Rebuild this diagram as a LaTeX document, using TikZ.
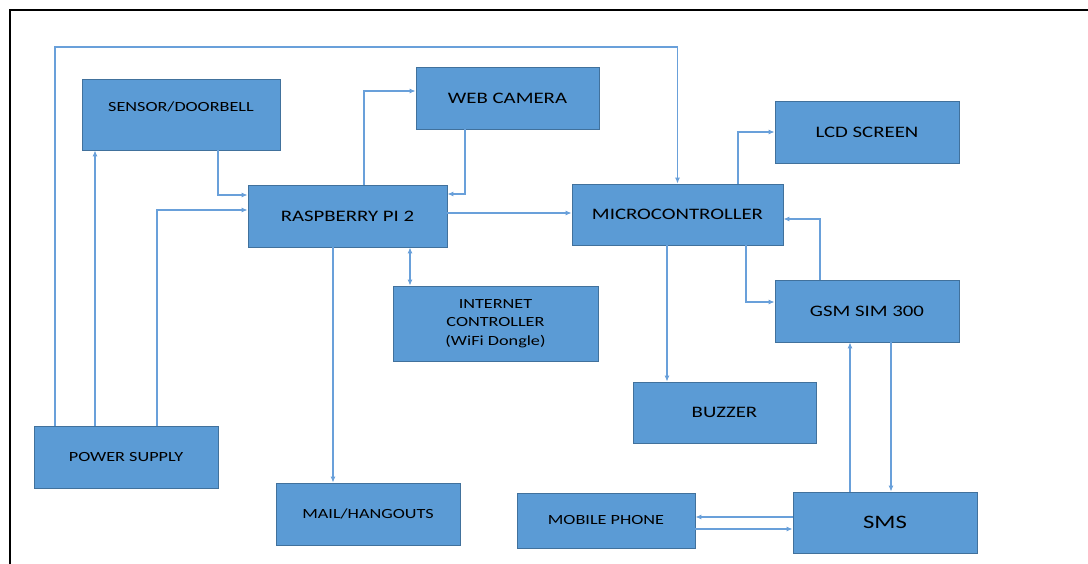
\documentclass[tikz,border=0pt]{standalone}
\usepackage{fontspec}
\setmainfont{Carlito}[FakeStretch=1.3]
\usepackage{xcolor}
\usepackage{tikz}
\usetikzlibrary{arrows.meta,calc,positioning}
\definecolor{boxblue}{RGB}{91,155,213}
\definecolor{edgeblue}{RGB}{65,113,156}
\definecolor{wireblue}{RGB}{105,160,218}

\begin{document}
\begin{tikzpicture}[
    x=1pt,y=-1pt,
    >={Latex[length=6pt,width=5pt]},
    wire/.style={draw=wireblue,line width=1.1pt},
    block/.style={draw=edgeblue,line width=0.8pt,fill=boxblue,align=center,inner sep=0pt,
                  minimum width=184pt,minimum height=62pt,font=\fontsize{16}{19}\selectfont},
    small/.style={font=\fontsize{14}{18.5}\selectfont},
    large/.style={font=\fontsize{19}{23}\selectfont}
]
\useasboundingbox (0,0) rectangle (1088,564);

% --- Frame ---
\draw[line width=2.2pt] (10,564) -- (10,10) -- (1088,10);

% --- Positions ---
% Inputs on the left
\node[block,small,minimum width=198pt,minimum height=71pt,text depth=16pt] (Sens) at (181,114.5) {SENSOR/DOORBELL};
\node[block,small] (Psu) at (126,457) {POWER SUPPLY};

% Raspberry Pi and its peripherals
\node[block,minimum width=199pt] (Rpi) at (347.5,216) {RASPBERRY PI 2};
\node[block,minimum width=183pt] (Cam) at (507.5,98) {WEB CAMERA};
\node[block,small,minimum width=205pt,minimum height=75pt] (Net) at (495.5,323.5) {INTERNET\\CONTROLLER\\(WiFi Dongle)};
\node[block,small] (Mail) at (368,514) {MAIL/HANGOUTS};

% Microcontroller side
\node[block,minimum width=211pt,minimum height=61pt] (Mcu) at (677.5,214.5) {MICROCONTROLLER};
\node[block] (Lcd) at (867,132) {LCD SCREEN};
\node[block] (Gsm) at (867,311) {GSM SIM 300};
\node[block,minimum width=183pt,minimum height=61pt] (Buz) at (724.5,412.5) {BUZZER};

% Messaging
\node[block,large,minimum height=61pt] (Sms) at (885,522.5) {SMS};
\node[block,small,minimum width=178pt,minimum height=55pt] (Mob) at (606,520.5) {MOBILE PHONE};

% Top rail of the supply line
\coordinate (rail) at (0,47);

% --- Wires ---

% Power supply feeds
\draw[wire,->] ([xshift=-71]Psu.north) |- (Mcu.north |- rail) -- (Mcu.north);
\draw[wire,->] ([xshift=-31]Psu.north) -- ([xshift=-31]Psu.north |- Sens.south);
\draw[wire,->] ([xshift=31]Psu.north) |- ([yshift=6]Rpi.west);

% Sensor and camera into the Pi
\draw[wire,->] ([xshift=37]Sens.south) |- ([yshift=21]Rpi.west);
\draw[wire,->] ([xshift=16.5]Rpi.north) |- ([yshift=7]Cam.west);
\draw[wire,->] ([xshift=-42.5]Cam.south) |- ([yshift=22]Rpi.east);

% Pi to microcontroller, dongle and mail
\draw[wire,->] ([yshift=3]Rpi.east) -- ([yshift=3]Rpi.east -| Mcu.west);
\draw[wire,<->] ([xshift=62.5]Rpi.south) -- ([xshift=62.5]Rpi.south |- Net.north);
\draw[wire,->] ([xshift=-14.5]Rpi.south) -- ([xshift=-14.5]Rpi.south |- Mail.north);

% Microcontroller outputs
\draw[wire,->] ([xshift=60.5]Mcu.north) |- (Lcd.west);
\draw[wire,->] ([xshift=68.5]Mcu.south) |- ([yshift=9]Gsm.west);
\draw[wire,->] ([xshift=-47]Gsm.north) |- ([yshift=-4.5]Mcu.east);
\draw[wire,->] ([xshift=-10.5]Mcu.south) -- ([xshift=-10.5]Mcu.south |- Buz.north);

% GSM and SMS
\draw[wire,->] ([xshift=-35]Sms.north) -- ([xshift=-35]Sms.north |- Gsm.south);
\draw[wire,->] ([xshift=24]Gsm.south) -- ([xshift=24]Gsm.south |- Sms.north);

% SMS and mobile phone
\draw[wire,->] ([yshift=5.5]Sms.west) -- ([yshift=5.5]Sms.west -| Mob.east);
\draw[wire,->] ([yshift=-8.5]Mob.east) -- ([yshift=-8.5]Mob.east -| Sms.west);
\end{tikzpicture}
\end{document}
